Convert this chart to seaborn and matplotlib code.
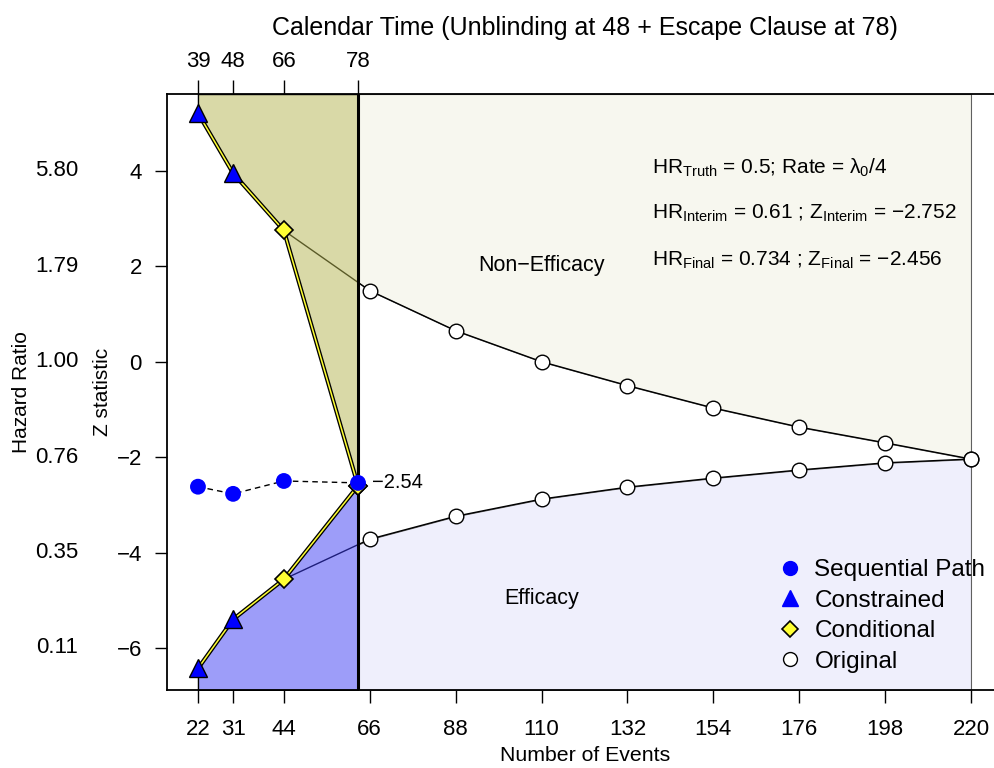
import numpy as np
import matplotlib
matplotlib.use("Agg")
import matplotlib.pyplot as plt
import matplotlib.patheffects as pe
from matplotlib import transforms
from matplotlib.lines import Line2D
import seaborn as sns

sns.set_theme(style="white")
plt.rcParams["font.family"] = ["Liberation Sans", "DejaVu Sans"]
plt.rcParams["mathtext.fontset"] = "custom"
plt.rcParams["mathtext.rm"] = "Liberation Sans"
plt.rcParams["mathtext.it"] = "Liberation Sans:italic"
plt.rcParams["mathtext.default"] = "regular"
plt.rcParams["axes.unicode_minus"] = True
for key in ("text.color", "axes.labelcolor", "xtick.color", "ytick.color"):
    plt.rcParams[key] = "black"

# ---- data -------------------------------------------------------------
event_ticks = [22, 31, 44, 66, 88, 110, 132, 154, 176, 198, 220]
cutoff_events = 63                      # escape clause look
calendar_tick_events = [22, 31, 44, 63]
calendar_labels = ["39", "48", "66", "78"]
z_ticks = [4, 2, 0, -2, -4, -6]
hr_labels = ["5.80", "1.79", "1.00", "0.76", "0.35", "0.11"]

orig_events = [44, 66, 88, 110, 132, 154, 176, 198, 220]
orig_upper = [2.75, 1.49, 0.65, 0.00, -0.50, -0.97, -1.37, -1.70, -2.04]
orig_lower = [-4.56, -3.72, -3.24, -2.88, -2.63, -2.44, -2.27, -2.12, -2.04]

cond_events = [22, 31, 44, 63]
cond_upper = [5.21, 3.95, 2.75, -2.60]
cond_lower = [-6.43, -5.40, -4.56, -2.60]

constr_events = [22, 31]
constr_upper = [5.21, 3.95]
constr_lower = [-6.43, -5.40]

seq_events = [22, 31, 44, 63]
seq_z = [-2.62, -2.77, -2.50, -2.54]

annotations = [
    "HR$_{Truth}$ = 0.5; Rate = \u03bb$_0$/4",
    "HR$_{Interim}$ = 0.61 ; Z$_{Interim}$ = \u22122.752",
    "HR$_{Final}$ = 0.734 ; Z$_{Final}$ = \u22122.456",
]

# ---- figure -----------------------------------------------------------
fig = plt.figure(figsize=(9.95, 7.68), dpi=100)
ax = fig.add_axes([0.1678, 0.1016, 1.01 - 0.1678, 0.8776 - 0.1016])
x_lo, x_hi = 14.06, 228.7
y_lo, y_hi = -6.88, 5.61
ax.set_xlim(x_lo, x_hi)
ax.set_ylim(y_lo, y_hi)

oe = np.asarray(orig_events, float)
ou = np.asarray(orig_upper)
ol = np.asarray(orig_lower)
right_x = np.r_[cutoff_events, oe[oe > cutoff_events]]
right_up = np.interp(right_x, oe, ou)
right_lo = np.interp(right_x, oe, ol)

# stopping regions after the escape clause look
ax.fill_between(right_x, right_up, y_hi, facecolor="#F7F7EF",
                edgecolor="#606060", linewidth=0.8, zorder=1)
ax.fill_between(right_x, y_lo, right_lo, facecolor="#EFEFFC",
                edgecolor="#606060", linewidth=0.8, zorder=1)

# original boundaries
sns.lineplot(x=orig_events, y=orig_upper, ax=ax, color="black",
             linewidth=1.0, sort=False, zorder=2)
sns.lineplot(x=orig_events, y=orig_lower, ax=ax, color="black",
             linewidth=1.0, sort=False, zorder=2)

# regions before the escape clause look
ax.fill_between(cond_events, cond_upper, y_hi,
                facecolor=(181 / 255, 181 / 255, 81 / 255, 0.5),
                edgecolor="black", linewidth=1.0, zorder=3)
ax.fill_between(cond_events, y_lo, cond_lower,
                facecolor=(61 / 255, 61 / 255, 245 / 255, 0.5),
                edgecolor="black", linewidth=1.0, zorder=3)

# conditional boundaries (yellow with black casing)
casing = [pe.Stroke(linewidth=3.0, foreground="black"), pe.Normal()]
for zz in (cond_upper, cond_lower):
    sns.lineplot(x=cond_events, y=zz, ax=ax, color="#FFFF33",
                 linewidth=1.1, sort=False, zorder=4,
                 path_effects=casing)

ax.axvline(cutoff_events, color="black", linewidth=2.2, zorder=5)

# sequential path
sns.lineplot(x=seq_events, y=seq_z, ax=ax, color="black", linewidth=1.0,
             linestyle=(0, (4, 3)), sort=False, zorder=6)

# markers
mk = dict(linestyle="none", zorder=8)
for zz in (ou, ol):
    ax.plot(oe[oe > cutoff_events], zz[oe > cutoff_events], marker="o",
            markersize=10.5, markerfacecolor="white", markeredgecolor="black",
            markeredgewidth=1.0, **mk)
for zz in (cond_upper, cond_lower):
    ax.plot(cond_events[2:], zz[2:], marker="D", markersize=9,
            markerfacecolor="#FFFF33", markeredgecolor="black",
            markeredgewidth=1.2, **mk)
for zz in (constr_upper, constr_lower):
    ax.plot(constr_events, zz, marker="^", markersize=12.5,
            markerfacecolor="#0000FF", markeredgecolor="black",
            markeredgewidth=1.0, **mk)
sns.scatterplot(x=seq_events, y=seq_z, ax=ax, color="#0000FF", s=130,
                edgecolor="none", zorder=9)

ax.text(seq_events[-1] + 3.6, seq_z[-1], f"{seq_z[-1]:.2f}".replace("-", "\u2212"),
        fontsize=14.5, va="center", ha="left", zorder=10)

# region labels and summary text
ax.text(109.9, 2.01, "Non\u2212Efficacy", fontsize=15.5, ha="center", va="center")
ax.text(109.9, -4.97, "Efficacy", fontsize=15.5, ha="center", va="center")
for i, s in enumerate(annotations):
    ax.text(138.3, 4.07 - 0.97 * i, s, fontsize=15, ha="left", va="center")

# axes, ticks, labels
ax.set_xticks(event_ticks)
ax.set_xticklabels([str(v) for v in event_ticks])
ax.set_yticks(z_ticks)
ax.set_yticklabels([str(v).replace("-", "\u2212") for v in z_ticks])
ax.tick_params(axis="both", which="both", direction="out", length=9,
               width=1.0, color="black", labelsize=16, pad=12,
               bottom=True, left=True)
ax.tick_params(axis="y", pad=9)
for side in ("left", "top", "bottom", "right"):
    ax.spines[side].set_color("black")
    ax.spines[side].set_linewidth(1.3)
    ax.spines[side].set_zorder(11)

top = ax.secondary_xaxis("top")
top.set_xticks(calendar_tick_events)
top.set_xticklabels(calendar_labels)
top.tick_params(direction="out", length=10, width=1.0, labelsize=16,
                pad=6, color="black")
top.spines["top"].set_visible(False)

ax.set_xlabel("Number of Events", fontsize=15.3)
ax.xaxis.set_label_coords(0.4989, -0.094)
ax.set_ylabel("Z statistic", fontsize=15)
ax.yaxis.set_label_coords(-0.0656, 0.5)

hr_tf = transforms.blended_transform_factory(fig.transFigure, ax.transData)
for z, lab in zip(z_ticks, hr_labels):
    ax.text(57 / 995, z, lab, transform=hr_tf, fontsize=16,
            ha="center", va="center", clip_on=False)
fig.text(22 / 995, 0.4896, "Hazard Ratio", rotation=90, fontsize=15,
         ha="center", va="center")
fig.text(585 / 995, 1 - 28 / 768,
         "Calendar Time (Unblinding at 48 + Escape Clause at 78)",
         fontsize=18, ha="center", va="center")

# legend
handles = [
    Line2D([], [], linestyle="none", marker="o", markersize=10,
           markerfacecolor="#0000FF", markeredgecolor="#0000FF"),
    Line2D([], [], linestyle="none", marker="^", markersize=11,
           markerfacecolor="#0000FF", markeredgecolor="#0000FF"),
    Line2D([], [], linestyle="none", marker="D", markersize=8,
           markerfacecolor="#FFFF33", markeredgecolor="black",
           markeredgewidth=1.2),
    Line2D([], [], linestyle="none", marker="o", markersize=10,
           markerfacecolor="white", markeredgecolor="black"),
]
labels = ["Sequential Path", "Constrained", "Conditional", "Original"]
leg = fig.legend(handles, labels, loc="upper left",
                 bbox_to_anchor=(778 / 995, 1 - 559 / 768),
                 frameon=False, fontsize=17.5, handlelength=1.0,
                 handletextpad=0.5, labelspacing=0.35, borderpad=0,
                 borderaxespad=0)

fig.savefig("out.png", dpi=100)
